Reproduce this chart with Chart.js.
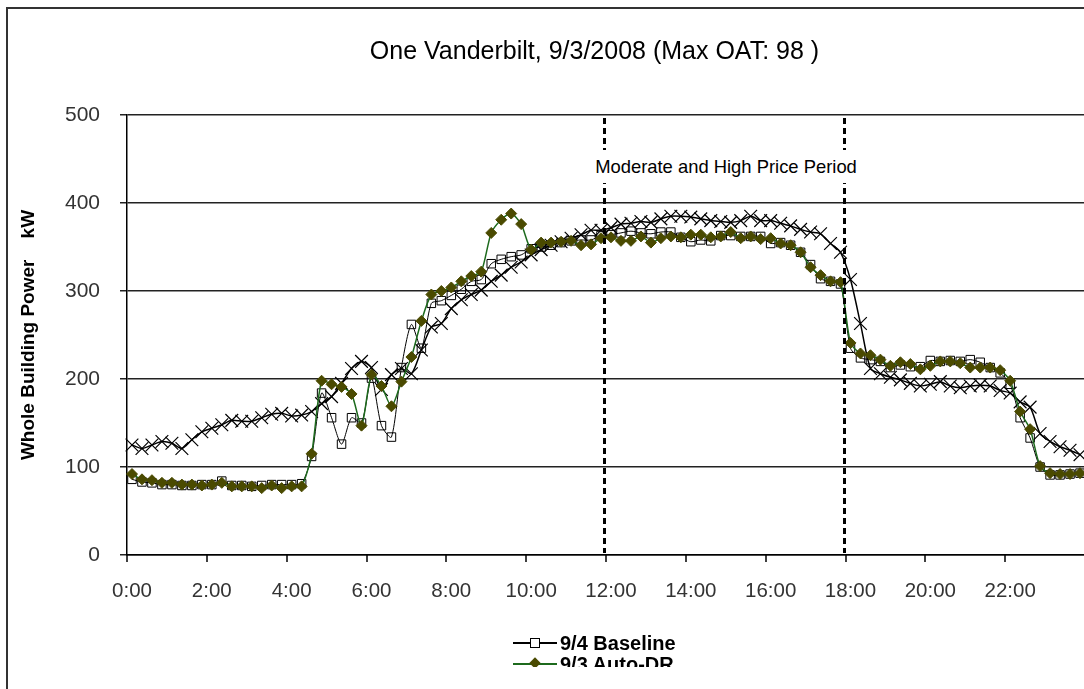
<!DOCTYPE html>
<html>
<head>
<meta charset="utf-8">
<script src="https://cdn.jsdelivr.net/npm/chart.js@4/dist/chart.umd.min.js"></script>
<style>
  html, body { margin:0; padding:0; background:#fff; }
  body { width:1084px; height:689px; overflow:hidden; position:relative; font-family:"Liberation Sans", Arial, sans-serif; }
  #frame { position:absolute; left:6px; top:7px; width:1200px; height:800px; border-left:2px solid #333; border-top:2px solid #333; pointer-events:none; }
  #wrap { position:absolute; left:0; top:0; width:1086px; height:689px; }
  #title { position:absolute; left:0; width:1189px; top:36px; text-align:center; font-size:25px; color:#000; white-space:nowrap; }
  #note { position:absolute; left:591px; top:150px; width:270px; height:33px; background:#fff; text-align:center; font-size:18.4px; line-height:33px; color:#000; white-space:nowrap; }
  #legend { position:absolute; left:510px; top:630px; width:230px; height:37px; overflow:hidden; font-weight:bold; font-size:20px; color:#000; }
  .item { position:absolute; left:0; height:22px; width:230px; }
  .ln { position:absolute; left:3px; top:10px; width:44px; height:1.5px; }
  .mk { position:absolute; }
  .tx { position:absolute; left:50px; top:0; line-height:22px; white-space:nowrap; }
</style>
</head>
<body>
<div id="wrap"><canvas id="c" width="1086" height="689" style="width:1086px;height:689px"></canvas></div>
<div id="title">One Vanderbilt, 9/3/2008 (Max OAT: 98 )</div>
<div id="note">Moderate and High Price Period</div>
<div id="legend"></div>
<div id="frame"></div>
<script>
// ---- data ----
const tickLabels = ['0:00','2:00','4:00','6:00','8:00','10:00','12:00','14:00','16:00','18:00','20:00','22:00'];
const categories = [];
for (let h = 0; h < 24; h++) for (let m = 0; m < 60; m += 15) categories.push(h + ':' + (m === 0 ? '00' : m));

const seriesNames = ['9/4 Baseline', '9/3 Auto-DR', 'Average Baseline'];

const baseline = [
  86, 83, 82, 80, 80, 79, 79, 80, 80, 84, 79, 79, 78, 79, 80, 80, 80, 81,
  112, 184, 156, 126, 156, 150, 201, 147, 134, 213, 262, 235,
  286, 289, 295, 302, 311, 313, 331, 336, 339, 341,
  348, 350, 352, 355, 357, 358, 358, 363, 364, 366,
  368, 366, 365, 367, 367, 361, 356, 358, 357, 363,
  363, 362, 362, 362, 354, 355, 352, 344, 330, 314,
  311, 308, 235, 224, 222, 220, 213, 216, 214, 214,
  221, 220, 221, 220, 222, 219, 213, 207, 194, 156,
  133, 100, 91, 91, 92, 93
];

const autoDR = [
  92, 86, 85, 82, 82, 80, 80, 79, 80, 82, 78, 78, 78, 76, 79, 76, 78, 78,
  115, 198, 194, 191, 183, 147, 205, 192, 169, 197, 225, 266,
  296, 300, 304, 311, 317, 322, 366, 381, 388, 376,
  347, 355, 355, 356, 357, 352, 353, 360, 361, 357,
  357, 362, 355, 360, 362, 361, 364, 364, 361, 362,
  367, 360, 362, 359, 360, 354, 352, 344, 327, 318,
  311, 310, 241, 229, 227, 222, 215, 219, 217, 211,
  215, 220, 220, 218, 213, 213, 213, 210, 198, 163,
  143, 101, 93, 92, 92, 93
];

const avgBaseline = [
  125, 121, 125, 129, 127, 121, 131, 140, 144, 148,
  153, 152, 152, 156, 160, 161, 158, 159, 163, 172,
  180, 195, 212, 220, 213, 188, 205, 212, 206, 233,
  259, 263, 280, 290, 296, 301, 311, 318, 327, 333,
  341, 347, 352, 356, 360, 364, 369, 369, 372, 376,
  377, 379, 378, 382, 385, 385, 384, 382, 380, 379,
  378, 380, 385, 380, 380, 377, 374, 370, 367, 365,
  354, 344, 313, 263, 212, 206, 202, 199, 195, 192,
  194, 197, 192, 190, 192, 193, 192, 187, 184, 174,
  168, 138, 129, 123, 119, 114
];

const priceStart = '12:00';
const priceEnd = '18:00';

// ---- styles ----
const FONT = '"Liberation Sans", Arial, sans-serif';
const OLIVE = '#4a4a00';
const GREEN = '#1d6a1d';

const marksPlugin = {
  id: 'marks',
  afterDatasetsDraw(chart) {
    const xs = chart.scales.x, area = chart.chartArea, ctx = chart.ctx;
    const half = (xs.getPixelForValue(1) - xs.getPixelForValue(0)) / 2;
    ctx.save();
    ctx.strokeStyle = '#000';
    ctx.lineWidth = 1.5;
    tickLabels.forEach(lbl => {
      const x = Math.round(xs.getPixelForValue(categories.indexOf(lbl)) - half);
      ctx.beginPath();
      ctx.moveTo(x, area.bottom);
      ctx.lineTo(x, area.bottom + 7);
      ctx.stroke();
    });
    ctx.lineWidth = 3;
    ctx.setLineDash([6, 4]);
    [priceStart, priceEnd].forEach(lbl => {
      const x = Math.round(xs.getPixelForValue(categories.indexOf(lbl)) - half) - 1.5;
      ctx.beginPath();
      ctx.moveTo(x, area.top + 3);
      ctx.lineTo(x, area.bottom - 2);
      ctx.stroke();
    });
    ctx.restore();
  }
};

const chart = new Chart(document.getElementById('c'), {
  type: 'line',
  data: {
    labels: categories,
    datasets: [
      {
        label: seriesNames[1], data: autoDR, order: 1,
        borderColor: GREEN, borderWidth: 1.5,
        pointStyle: 'rectRot', pointRadius: 5.5, pointBackgroundColor: OLIVE, pointBorderColor: OLIVE, pointBorderWidth: 1,
        tension: 0.25
      },
      {
        label: seriesNames[0], data: baseline, order: 2,
        borderColor: '#000', borderWidth: 1,
        pointStyle: 'rect', pointRadius: 6, pointBackgroundColor: 'rgba(255,255,255,0)', pointBorderColor: '#000', pointBorderWidth: 1,
        tension: 0.25
      },
      {
        label: seriesNames[2], data: avgBaseline, order: 3,
        borderColor: '#000', borderWidth: 1.5,
        pointStyle: 'crossRot', pointRadius: 9, pointBorderColor: '#000', pointBorderWidth: 1.2,
        tension: 0.25
      }
    ]
  },
  options: {
    responsive: false,
    animation: false,
    devicePixelRatio: 1,
    layout: { autoPadding: false, padding: { top: 115, left: 0, right: 1, bottom: 0 } },
    plugins: { legend: { display: false }, title: { display: false }, tooltip: { enabled: false } },
    scales: {
      x: {
        type: 'category',
        offset: true,
        afterFit(s) { s.height = 134; s.paddingLeft = 0; s.paddingRight = 0; },
        grid: { display: false },
        border: { display: true, color: '#000', width: 1.5 },
        ticks: {
          autoSkip: false, maxRotation: 0, minRotation: 0, padding: 16,
          color: '#333', font: { family: FONT, size: 20.5 },
          callback(val, idx) { const l = categories[idx]; return tickLabels.includes(l) ? l : null; }
        }
      },
      y: {
        min: 0, max: 500,
        afterFit(s) { s.width = 127; },
        grid: { color: '#222', lineWidth: 1.5, drawTicks: true, tickLength: 7 },
        border: { display: true, color: '#000', width: 1.5 },
        ticks: { stepSize: 100, padding: 20, color: '#333', font: { family: FONT, size: 21 } },
        title: {
          display: true, text: 'Whole Building Power    kW', color: '#000',
          font: { family: FONT, size: 19, weight: 'bold' }, padding: { top: 17, bottom: 0 }
        }
      }
    }
  },
  plugins: [marksPlugin]
});

// ---- legend (clipped like the original) ----
const legend = document.getElementById('legend');
const legendSpecs = [
  { name: seriesNames[0], line: '#000', top: 2, marker: 'sq' },
  { name: seriesNames[1], line: GREEN, top: 23, marker: 'dm' }
];
legendSpecs.forEach(s => {
  const it = document.createElement('div');
  it.className = 'item';
  it.style.top = s.top + 'px';
  const ln = document.createElement('div');
  ln.className = 'ln'; ln.style.background = s.line;
  it.appendChild(ln);
  const mk = document.createElement('div');
  mk.className = 'mk';
  if (s.marker === 'sq') {
    Object.assign(mk.style, { left: '20px', top: '6px', width: '8px', height: '8px', border: '1px solid #000', background: '#fff' });
  } else {
    Object.assign(mk.style, { left: '21px', top: '6px', width: '8px', height: '8px', background: OLIVE, transform: 'rotate(45deg)' });
  }
  it.appendChild(mk);
  const tx = document.createElement('div');
  tx.className = 'tx'; tx.textContent = s.name;
  it.appendChild(tx);
  legend.appendChild(it);
});
</script>
</body>
</html>
